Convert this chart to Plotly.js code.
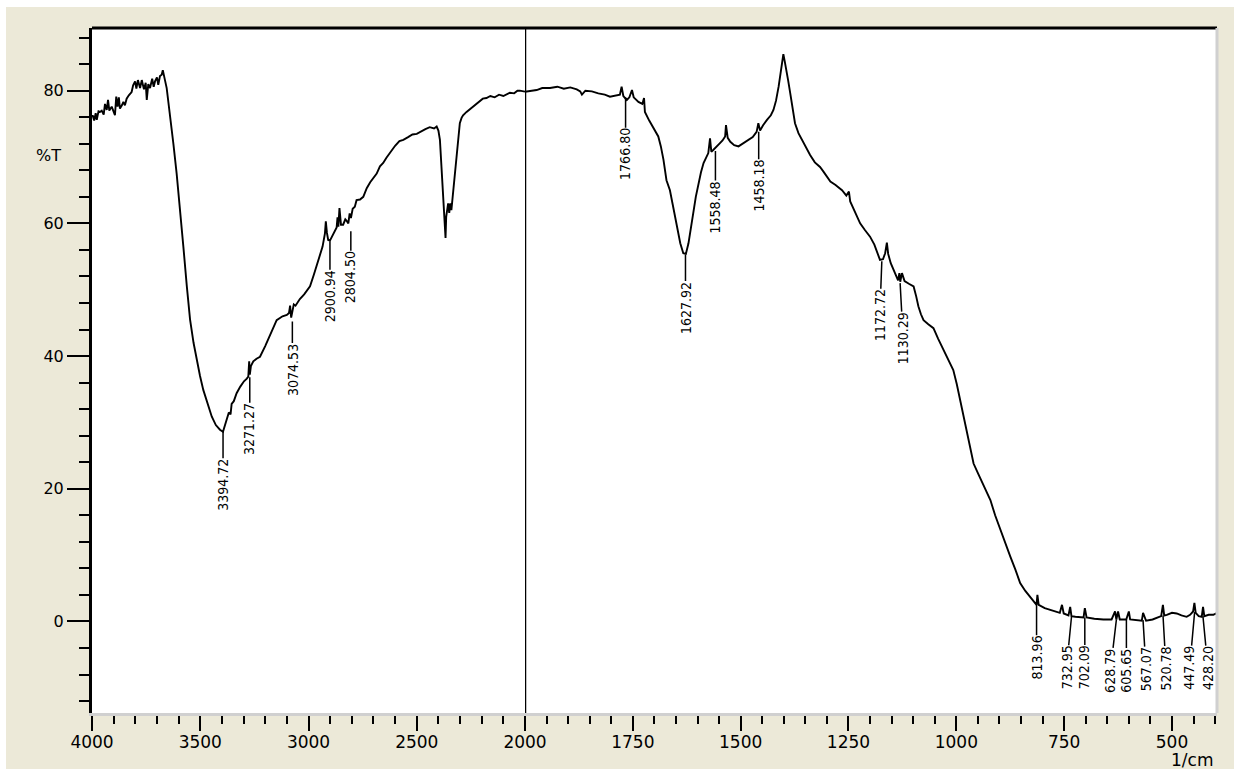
<!DOCTYPE html>
<html><head><meta charset="utf-8">
<script src="https://cdn.plot.ly/plotly-3.0.1.min.js"></script>
<style>
html,body{margin:0;padding:0;background:#ffffff;}
#chart{position:absolute;left:6px;top:7px;width:1228px;height:762px;}
</style>
</head><body>
<div id="chart"></div>
<script>
// ---- spectrum data (wavenumber in 1/cm, transmittance in %T) ----
const wavenumber = [
4000,3997,3990,3983,3978,3970,3963,3955,3946,3940,3932,3926,3920,3909,3902,3894,3888,3882,3876,3871,
3862,3855,3848,3840,3830,3817,3810,3801,3795,3788,3778,3770,3760,3752,3747,3740,3732,3722,3715,3709,
3700,3694,3686,3678,3673,3668,3663,3655,3640,3624,3609,3594,3578,3562,3547,3531,3516,3501,3486,3466,
3447,3428,3409,3395,3385,3378,3368,3360,3355,3345,3332,3315,3298,3285,3278,3274,3271,3266,3255,3240,
3224,3200,3170,3147,3120,3100,3090,3085,3080,3074,3068,3060,3040,3020,2993,2975,2960,2947,2935,2924,
2920,2915,2909,2901,2890,2878,2870,2866,2862,2857,2850,2840,2830,2822,2816,2810,2804,2796,2786,2778,
2762,2747,2731,2715,2700,2685,2670,2655,2640,2620,2600,2580,2562,2540,2520,2500,2485,2460,2440,2420,
2408,2400,2393,2387,2381,2377,2373,2370,2367,2364,2360,2355,2350,2345,2340,2334,2328,2322,2316,2308,
2301,2293,2286,2270,2255,2240,2225,2210,2195,2178,2160,2140,2120,2100,2086,2070,2050,2035,2024,2010,
2000,1985,1973,1960,1942,1925,1910,1895,1880,1872,1868,1860,1845,1830,1815,1803,1790,1780,1776,1772,
1764,1758,1752,1748,1737,1728,1724,1722,1712,1702,1691,1685,1679,1672,1664,1658,1652,1646,1640,1633,
1627,1621,1616,1610,1604,1598,1592,1586,1580,1575,1571,1568,1563,1555,1548,1542,1536,1534,1530,1524,
1515,1505,1495,1482,1472,1463,1459,1455,1448,1439,1430,1424,1418,1412,1408,1405,1401,1398,1395,1390,
1385,1380,1374,1366,1358,1348,1339,1328,1316,1308,1300,1292,1280,1265,1255,1249,1246,1235,1223,1212,
1200,1190,1184,1177,1170,1165,1161,1158,1152,1146,1140,1135,1132,1130,1126,1120,1110,1099,1093,1088,
1082,1076,1065,1053,1042,1030,1018,1007,999,991,983,975,967,960,951,942,932,921,910,898,
886,875,863,852,840,829,820,814,812,809,795,782,768,760,755,751,740,736,733,728,
724,705,702,698,680,659,640,632,629,625,621,606,600,597,580,570,567,560,545,535,
525,521,518,512,500,489,478,466,458,451,448,445,438,431,428,425,415,404,398,396
];
const transmittance = [
76.0,76.3,75.5,76.6,75.6,76.9,76.8,77.0,76.4,78.0,77.1,78.6,77.0,77.6,77.0,76.3,79.1,77.6,79.0,77.3,
77.8,78.3,77.8,78.8,79.3,79.8,80.8,81.4,80.3,81.6,80.4,81.6,80.2,81.2,78.6,81.0,80.4,81.8,80.6,81.4,
82.0,80.9,82.2,82.4,83.1,82.0,81.6,80.4,76.5,72.0,67.5,62.5,56.5,50.5,45.5,42.0,39.4,37.0,34.9,32.8,
30.9,29.6,28.9,28.6,29.6,30.4,31.5,31.2,32.8,33.2,34.4,35.4,36.2,36.6,36.9,39.2,37.2,38.5,39.2,39.6,
39.9,41.5,43.6,45.4,46.0,46.2,46.5,47.6,45.8,46.8,47.8,47.6,48.6,49.3,50.5,52.3,53.8,55.0,56.5,58.5,
60.3,58.6,57.5,57.4,58.2,58.8,59.4,60.9,59.5,62.3,59.8,59.8,60.6,60.3,60.0,61.5,60.8,62.2,62.5,63.5,
63.6,64.0,65.3,66.2,66.8,67.5,68.6,69.1,69.9,70.9,71.7,72.4,72.6,73.0,73.4,73.5,73.8,74.2,74.5,74.3,
74.6,74.0,72.6,69.0,65.8,63.0,60.0,58.8,57.8,61.0,62.0,63.0,61.6,63.0,62.0,64.0,66.5,68.5,70.6,73.0,
75.1,75.9,76.3,76.8,77.2,77.6,78.0,78.4,78.8,78.9,79.2,79.0,79.4,79.2,79.4,79.7,79.6,80.0,80.0,79.9,
79.85,80.0,80.1,80.4,80.4,80.6,80.3,80.5,80.2,79.9,79.4,80.0,79.9,79.6,79.4,79.1,79.3,79.4,80.6,79.2,
78.6,79.0,80.1,79.0,78.3,78.0,78.9,76.8,75.5,74.3,73.1,71.6,69.6,66.5,65.0,63.0,61.0,59.0,57.0,55.5,
55.4,57.0,59.3,61.5,64.0,66.0,67.7,69.1,70.0,70.6,72.8,70.8,71.1,71.7,72.1,72.5,73.1,74.8,72.9,72.3,
71.8,71.6,72.0,72.6,73.0,73.8,75.1,74.0,74.8,75.6,76.3,77.1,78.5,80.6,82.2,83.6,85.5,84.5,83.6,81.6,
79.6,77.4,75.1,73.6,72.6,71.4,70.3,69.2,68.5,67.8,67.0,66.3,65.8,65.0,64.2,64.8,63.3,61.6,60.0,59.0,
58.0,56.8,55.8,54.5,54.6,55.5,57.1,55.4,54.0,53.0,52.0,51.4,52.5,51.2,52.5,51.3,50.9,50.5,49.0,47.5,
46.3,45.4,44.8,44.2,42.6,40.9,39.4,37.9,35.8,33.4,30.9,28.4,26.0,23.8,22.5,21.3,19.8,18.3,16.0,13.8,
11.8,9.8,7.8,5.8,4.6,3.7,3.0,2.5,4.0,2.5,2.0,1.7,1.4,1.3,2.5,1.2,0.9,2.2,0.8,0.7,
0.7,0.6,2.0,0.6,0.4,0.3,0.3,1.5,0.3,1.5,0.3,0.3,1.5,0.3,0.2,0.1,1.3,0.1,0.3,0.5,
0.8,2.5,0.9,1.0,1.3,1.2,0.9,0.7,1.0,1.5,2.8,1.3,0.8,0.7,2.2,0.8,1.0,1.0,1.2,1.0
];

// ---- peak annotations ----
const peakLabels = ["3394.72","3271.27","3074.53","2900.94","2804.50","1766.80","1627.92","1558.48","1458.18",
  "1172.72","1130.29","813.96","732.95","702.09","628.79","605.65","567.07","520.78","447.49","428.20"];
const peakWavenumbers = [3394.72,3271.27,3074.53,2900.94,2804.50,1766.80,1627.92,1558.48,1458.18,
  1172.72,1130.29,813.96,732.95,702.09,628.79,605.65,567.07,520.78,447.49,428.20];
const peakTransmittance = [28.6,36.8,45.2,57.3,58.8,79.0,55.3,70.9,73.8,
  54.3,51.0,2.5,0.7,0.6,0.3,0.3,0.2,0.9,1.4,0.8];

// ---- axis ticks ----
const xTicksHigh = [4000,3500,3000,2500];
const xTicksLow = [2000,1750,1500,1250,1000,750,500];
const yTicks = [0,20,40,60,80];

// ---- presentation (pixel offsets of the peak labels) ----
const labelOffsets = [[0,53],[0,52],[0,48],[0,55],[0,46],[0,57],[0,53],[0,56],[0,54],
  [-2,54],[3,55],[0,53],[-5,51],[0,50],[-6,51],[0,51],[3,49],[3,53],[-5,56],[5,52]];

const SPLIT = 2000;
const hiX=[],hiY=[],loX=[],loY=[];
wavenumber.forEach((w,i)=>{
  if(w>=SPLIT){hiX.push(w);hiY.push(transmittance[i]);}
  if(w<=SPLIT){loX.push(w);loY.push(transmittance[i]);}
});

const lineStyle = {color:'#000000', width:1.9};
const traces = [
  {x:hiX, y:hiY, type:'scatter', mode:'lines', line:lineStyle, xaxis:'x', yaxis:'y', hoverinfo:'skip'},
  {x:loX, y:loY, type:'scatter', mode:'lines', line:lineStyle, xaxis:'x2', yaxis:'y', hoverinfo:'skip'}
];

const tickFont = {family:'DejaVu Sans, Verdana, sans-serif', size:16, color:'#000'};
const peakFont = {family:'Liberation Sans Narrow, DejaVu Sans Condensed, Arial Narrow, sans-serif', size:14, color:'#000'};

const annotations = peakLabels.map((lab,i)=>({
  x: peakWavenumbers[i], y: peakTransmittance[i],
  xref: peakWavenumbers[i] >= SPLIT ? 'x' : 'x2', yref:'y',
  text: lab, textangle:-90, font: peakFont,
  showarrow:true, arrowhead:0, arrowwidth:1.5, arrowcolor:'#000',
  ax: labelOffsets[i][0], ay: labelOffsets[i][1], standoff:0, borderpad:0
}));
annotations.push({xref:'paper', yref:'y', x:0, xshift:-44, y:70.3, text:'%T', showarrow:false,
  font:{family:'DejaVu Sans, sans-serif', size:16, color:'#000'}, xanchor:'center', yanchor:'middle'});
annotations.push({xref:'paper', yref:'paper', x:1, xshift:-2, y:-0.069, text:'1/cm', showarrow:false,
  font:{family:'DejaVu Sans, sans-serif', size:17, color:'#000'}, xanchor:'right', yanchor:'middle'});

const splitFrac = 433/1125;
const xCommon = {
  ticks:'outside', ticklen:15, tickwidth:2, tickcolor:'#000', ticklabelstandoff:-3,
  showgrid:false, zeroline:false, showline:true, linecolor:'#D0D0D0', linewidth:3,
  tickfont:{...tickFont, size:17}, fixedrange:true
};
const layout = {
  width:1228, height:762,
  margin:{l:86, r:17, t:21, b:56, pad:0},
  paper_bgcolor:'#ECE9D8', plot_bgcolor:'#FFFFFF',
  showlegend:false, hovermode:false,
  xaxis:{...xCommon, domain:[0,splitFrac], range:[4000,SPLIT], anchor:'y',
    tickmode:'array', tickvals:xTicksHigh, ticktext:xTicksHigh.map(String),
    minor:{tickmode:'linear', tick0:0, dtick:100, ticks:'outside', ticklen:8, tickwidth:2, tickcolor:'#000'}},
  xaxis2:{...xCommon, domain:[splitFrac,1], range:[SPLIT,395.6], anchor:'y',
    tickmode:'array', tickvals:xTicksLow, ticktext:xTicksLow.map(String),
    minor:{tickmode:'linear', tick0:0, dtick:50, ticks:'outside', ticklen:8, tickwidth:2, tickcolor:'#000'}},
  yaxis:{range:[-13.8,89.45], anchor:'x',
    tickmode:'array', tickvals:yTicks, ticktext:yTicks.map(String),
    ticks:'outside', ticklen:22, tickwidth:2, tickcolor:'#000',
    minor:{tickmode:'linear', tick0:0, dtick:4, ticks:'outside', ticklen:10, tickwidth:2, tickcolor:'#000'},
    showgrid:false, zeroline:false, showline:true, linecolor:'#000', linewidth:3,
    tickfont:tickFont, fixedrange:true},
  shapes:[
    {type:'line', xref:'paper', yref:'paper', x0:0, x1:1, y0:1, y1:1, line:{color:'#000', width:3}},
    {type:'line', xref:'paper', yref:'paper', x0:1, x1:1, y0:0, y1:1, line:{color:'#D0D0D0', width:3}},
    {type:'line', xref:'x2', yref:'paper', x0:SPLIT, x1:SPLIT, y0:0, y1:1, line:{color:'#000', width:2.5}}
  ],
  annotations: annotations
};

Plotly.newPlot('chart', traces, layout, {displayModeBar:false, staticPlot:true});
</script>
</body></html>
